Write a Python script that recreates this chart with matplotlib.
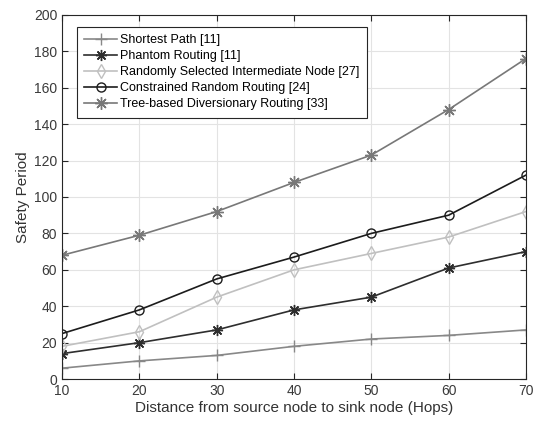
import matplotlib
matplotlib.use("Agg")
import matplotlib.pyplot as plt

plt.rcParams['font.family'] = ['Liberation Sans', 'DejaVu Sans']

hops = [10, 20, 30, 40, 50, 60, 70]
shortest = [6, 10, 13, 18, 22, 24, 27]
phantom = [14, 20, 27, 38, 45, 61, 70]
random_sel = [18, 26, 45, 60, 69, 78, 92]
constrained = [25, 38, 55, 67, 80, 90, 112]
tree = [68, 79, 92, 108, 123, 148, 176]

labels = ["Shortest Path [11]", "Phantom Routing [11]",
          "Randomly Selected Intermediate Node [27]",
          "Constrained Random Routing [24]",
          "Tree-based Diversionary Routing [33]"]

fig = plt.figure(figsize=(5.35, 4.25), dpi=100)
ax = fig.add_axes([0.116, 0.108, 0.867, 0.857])

ax.plot(hops, shortest, color='#888888', marker='+', ms=8, mew=1.0, lw=1.2, label=labels[0])
ax.plot(hops, phantom, color='#2e2e2e', marker=(8, 2, 0), ms=8, mew=1.0, lw=1.2, label=labels[1])
ax.plot(hops, random_sel, color='#c0c0c0', marker='d', ms=7, mfc='none', mew=1.0, lw=1.2, label=labels[2])
ax.plot(hops, constrained, color='#1c1c1c', marker='o', ms=6.5, mfc='none', mew=1.0, lw=1.2, label=labels[3])
ax.plot(hops, tree, color='#787878', marker=(8, 2, 0), ms=9, mew=1.0, lw=1.2, label=labels[4])

ax.set_xlim(10, 70)
ax.set_ylim(0, 200)
ax.set_xticks(hops)
ax.set_yticks(range(0, 201, 20))
ax.grid(True, color='#e3e3e3', lw=0.8)
ax.set_axisbelow(True)
ax.tick_params(direction='in', top=True, right=True, labelsize=10, length=4,
               colors='#262626', labelcolor='#3a3a3a')
for s in ax.spines.values():
    s.set_color('#262626')
    s.set_linewidth(0.8)
ax.set_xlabel("Distance from source node to sink node (Hops)", fontsize=11, color='#333333', labelpad=2)
ax.set_ylabel("Safety Period", fontsize=11, color='#333333', labelpad=3)

leg = ax.legend(loc='upper left', bbox_to_anchor=(0.032, 0.967), borderaxespad=0, fontsize=9,
                fancybox=False, framealpha=1, edgecolor='#262626',
                handlelength=2.6, borderpad=0.6, labelspacing=0.32, handletextpad=0.25)
leg.get_frame().set_linewidth(0.8)

fig.savefig("out.png", dpi=100)
